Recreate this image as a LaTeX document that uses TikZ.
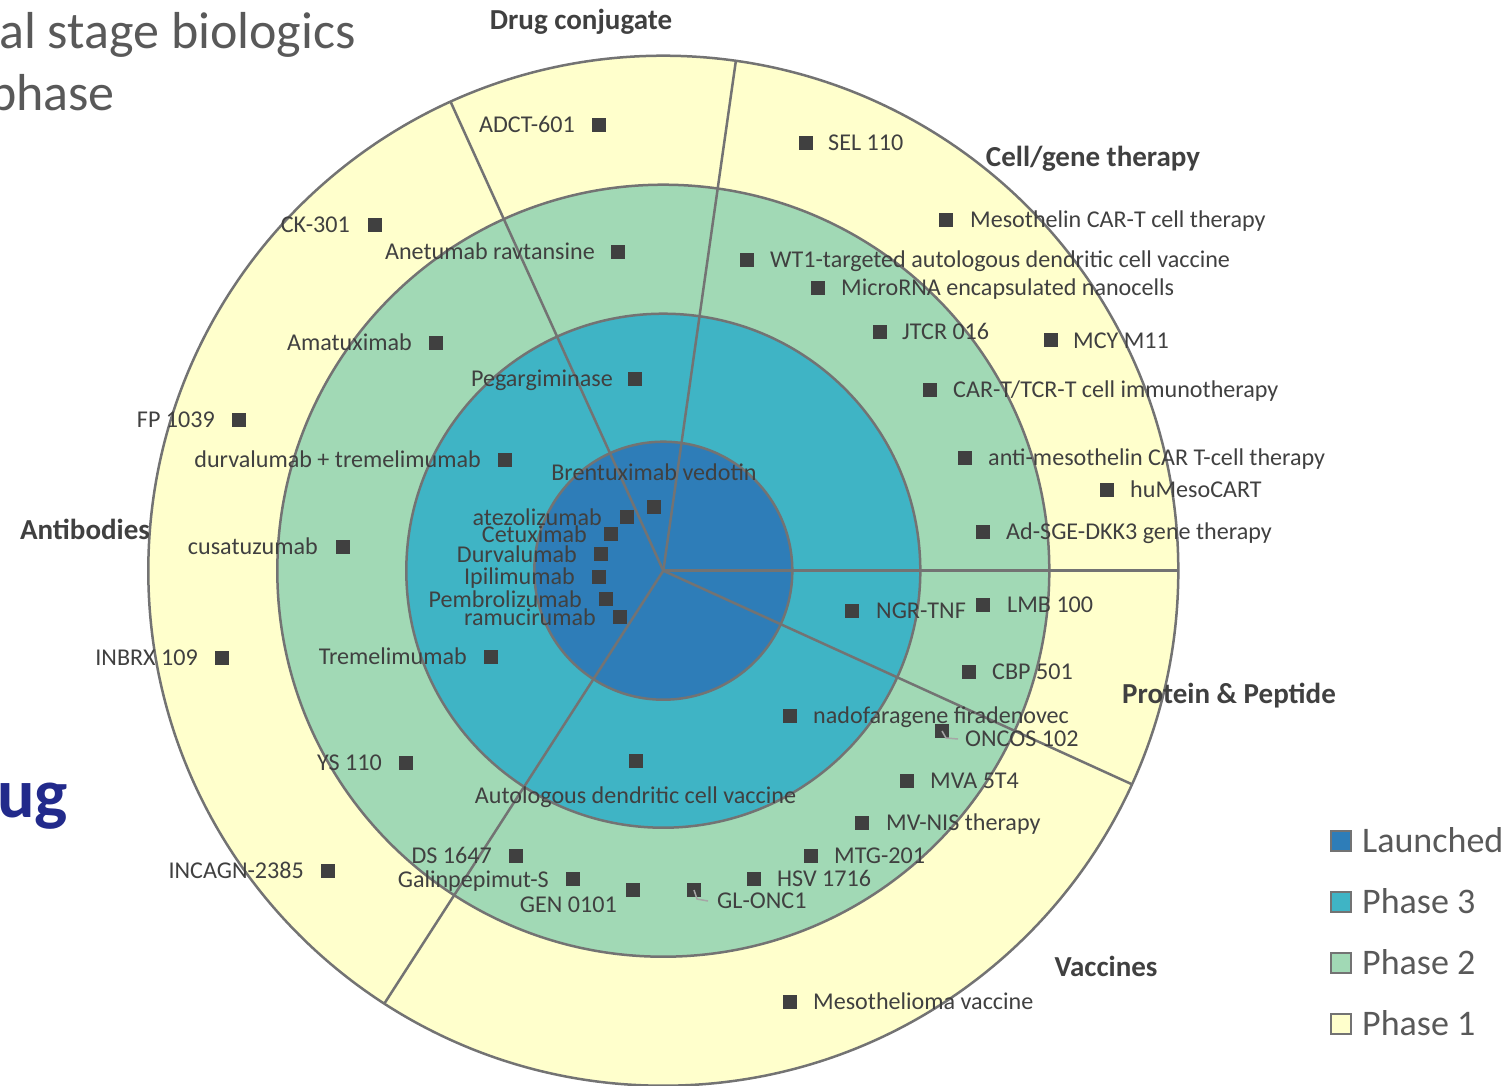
\documentclass[tikz,border=0pt]{standalone}
\usepackage{fontspec}
\setmainfont{Carlito}
\usetikzlibrary{calc}
\definecolor{cL}{HTML}{2E7DB8}
\definecolor{cP3}{HTML}{3FB4C5}
\definecolor{cP2}{HTML}{A1D9B5}
\definecolor{cP1}{HTML}{FFFFCC}
\definecolor{lineC}{HTML}{737373}
\definecolor{mkC}{HTML}{404040}
\definecolor{txtC}{HTML}{404040}
\definecolor{titC}{HTML}{595959}
\definecolor{leadC}{HTML}{A6A6A6}
\definecolor{navyC}{HTML}{222A8B}
\tikzset{
 ring/.style={draw=lineC, line width=2.5pt},
 sector/.style={draw=lineC, line width=2.5pt},
 mk/.style={fill=mkC, minimum size=13.5pt, inner sep=0pt, outer sep=0pt},
 lbl/.style={inner sep=0pt, text=txtC, font=\fontsize{24.1}{26}\selectfont, text height=15.5pt, text depth=0pt},
 head/.style={inner sep=0pt, text=txtC, font=\fontsize{29}{32}\selectfont\bfseries, text height=18.7pt, text depth=0pt},
 leader/.style={draw=leadC, line width=1.5pt},
 legbox/.style={draw=lineC, line width=2pt, minimum size=20pt, inner sep=0pt},
 legtxt/.style={inner sep=0pt, text=titC, font=\fontsize{36}{40}\selectfont, text height=23pt, text depth=0pt},
 titletxt/.style={inner sep=0pt, text=titC, font=\fontsize{52}{56}\selectfont},
}
\newcommand\itemW[6]{\node[mk] (#1) at (#2,#3) {}; \node[lbl,anchor=west] (#1l) at (#4,#5) {#6};}
\newcommand\itemE[6]{\node[mk] (#1) at (#2,#3) {}; \node[lbl,anchor=east] (#1l) at (#4,#5) {#6};}
\newcommand\itemC[6]{\node[mk] (#1) at (#2,#3) {}; \node[lbl,anchor=center] (#1l) at (#4,#5) {#6};}
\begin{document}
\begin{tikzpicture}[x=1pt,y=-1pt]
\useasboundingbox (0,0) rectangle (1511,1085);
\coordinate (C) at (663.3,570.7);
% rings
\fill[cP1] (C) circle[radius=515];
\draw[ring] (C) circle[radius=515];
\fill[cP2] (C) circle[radius=386];
\draw[ring] (C) circle[radius=386];
\fill[cP3] (C) circle[radius=257];
\draw[ring] (C) circle[radius=257];
\fill[cL] (C) circle[radius=129];
\draw[ring] (C) circle[radius=129];
% sector boundaries
\coordinate (e1) at ($(C)+(-114.4:515)$);
\coordinate (e2) at ($(C)+(-81.9:515)$);
\coordinate (e3) at ($(C)+(0:515)$);
\coordinate (e4) at ($(C)+(24.5:515)$);
\coordinate (e5) at ($(C)+(122.8:515)$);
\foreach \e in {e1,e2,e3,e4,e5} \draw[sector] (C) -- (\e);
% title fragments
\node[titletxt, anchor=base east] (t1) at (356,48) {al stage biologics};
\node[titletxt, anchor=base east] (t2) at (115,110) {phase};
\node[inner sep=0pt, text=navyC, font=\fontsize{70}{74}\selectfont\bfseries, anchor=base east] (t3) at (68,817) {ug};
% headings
\node[head] (hDC) at (581,20) {Drug conjugate};
\node[head] (hCG) at (1093,157) {Cell/gene therapy};
\node[head] (hAB) at (85,530) {Antibodies};
\node[head] (hPP) at (1229,694) {Protein \& Peptide};
\node[head] (hVA) at (1106,967) {Vaccines};
% drug conjugate
\itemE{a1}{599}{125}{575}{125}{ADCT-601}
\itemE{a2}{618}{252}{595}{252}{Anetumab ravtansine}
\itemE{a3}{635}{379}{613}{379}{Pegargiminase}
\itemC{a4}{654}{507}{654}{473}{Brentuximab vedotin}
% antibodies
\itemE{b1}{375}{225}{350}{225}{CK-301}
\itemE{b2}{436}{343}{412}{343}{Amatuximab}
\itemE{b3}{239}{420}{215}{420}{FP 1039}
\itemE{b4}{505}{460}{481}{460}{durvalumab + tremelimumab}
\itemE{b5}{343}{547}{318}{547}{cusatuzumab}
\itemE{b6}{222}{658}{198}{658}{INBRX 109}
\itemE{b7}{491}{657}{467}{657}{Tremelimumab}
\itemE{b8}{406}{763}{382}{763}{YS 110}
\itemE{b9}{328}{871}{304}{871}{INCAGN-2385}
\itemE{b10}{627}{517}{602}{518}{atezolizumab}
\itemE{b11}{611}{534}{587}{535}{Cetuximab}
\itemE{b12}{601}{554}{577}{555}{Durvalumab}
\itemE{b13}{599}{577}{575}{577}{Ipilimumab}
\itemE{b14}{606}{599}{582}{600}{Pembrolizumab}
\itemE{b15}{620}{617}{596}{618}{ramucirumab}
% cell/gene therapy
\itemW{c1}{806}{143}{828}{143}{SEL 110}
\itemW{c2}{946}{220}{970}{220}{Mesothelin CAR-T cell therapy}
\itemW{c3}{747}{260}{770}{260}{WT1-targeted autologous dendritic cell vaccine}
\itemW{c4}{818}{288}{841}{288}{MicroRNA encapsulated nanocells}
\itemW{c5}{880}{332}{902}{332}{JTCR 016}
\itemW{c6}{1051}{340}{1073}{341}{MCY M11}
\itemW{c7}{930}{390}{953}{390}{CAR-T/TCR-T cell immunotherapy}
\itemW{c8}{965}{458}{988}{458}{anti-mesothelin CAR T-cell therapy}
\itemW{c9}{1107}{490}{1130}{490}{huMesoCART}
\itemW{c10}{983}{532}{1006}{532}{Ad-SGE-DKK3 gene therapy}
% protein & peptide
\itemW{p1}{852}{611}{876}{611}{NGR-TNF}
\itemW{p2}{983}{605}{1007}{605}{LMB 100}
\itemW{p3}{969}{672}{992}{672}{CBP 501}
% vaccines
\itemW{v1}{790}{716}{813}{716}{nadofaragene firadenovec}
\itemW{v2}{942}{731}{965}{739}{ONCOS 102}
\itemC{v3}{636}{761}{635.5}{796}{Autologous dendritic cell vaccine}
\itemW{v4}{907}{781}{930}{781}{MVA 5T4}
\itemW{v5}{862}{823}{886}{823}{MV-NIS therapy}
\itemW{v6}{811}{856}{834}{856}{MTG-201}
\itemW{v7}{754}{879}{777}{879}{HSV 1716}
\itemW{v8}{694}{890}{717}{901}{GL-ONC1}
\itemE{v9}{633}{890}{617}{905}{GEN 0101}
\itemE{v10}{573}{879}{549}{880}{Galinpepimut-S}
\itemE{v11}{516}{856}{492}{856}{DS 1647}
\itemW{v12}{790}{1002}{813}{1002}{Mesothelioma vaccine}
% leaders
\draw[leader] (v2.center) -- ($(v2.center)+(4,7)$) -- ($(v2l.west)+(-7,0)$);
\draw[leader] (v8.center) -- ($(v8.center)+(3,9)$) -- ($(v8l.west)+(-9,0)$);
% legend
\node[legbox, fill=cL] (g1) at (1340.5,841) {};
\node[legbox, fill=cP3] (g2) at (1340.5,902) {};
\node[legbox, fill=cP2] (g3) at (1340.5,963) {};
\node[legbox, fill=cP1] (g4) at (1340.5,1024) {};
\node[legtxt, anchor=west] (g1l) at (1362,841) {Launched};
\node[legtxt, anchor=west] (g2l) at (1362,902) {Phase 3};
\node[legtxt, anchor=west] (g3l) at (1362,963) {Phase 2};
\node[legtxt, anchor=west] (g4l) at (1362,1024) {Phase 1};
\end{tikzpicture}
\end{document}
